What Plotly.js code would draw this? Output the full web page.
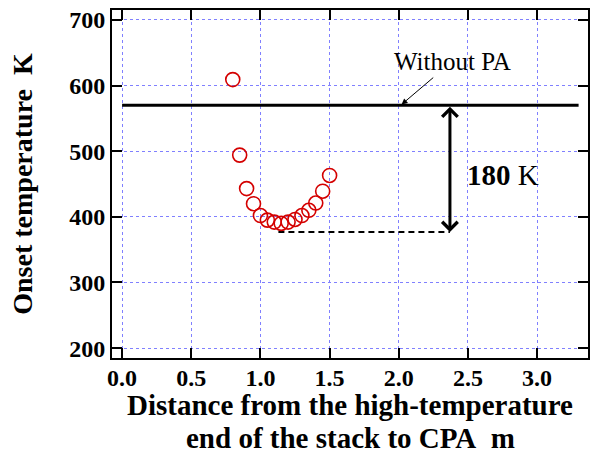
<!DOCTYPE html>
<html>
<head>
<meta charset="utf-8">
<script src="https://cdn.plot.ly/plotly-3.0.1.min.js"></script>
<style>html,body{margin:0;padding:0;background:#fff;}#chart{width:591px;height:454px;}</style>
</head>
<body>
<div id="chart"></div>
<script>
// Data
const distance = [0.80, 0.85, 0.90, 0.95, 1.00, 1.05, 1.10, 1.15, 1.20, 1.25, 1.30, 1.35, 1.40, 1.45, 1.50];
const onsetTemp = [609, 494, 443, 420, 402, 395, 392, 390, 392, 396, 402, 410, 421, 439, 463];
const withoutPA = 570;          // onset temperature without PA (K)
const withoutPAX = [0, 3.3];    // extent of the reference line
const minLevel = 377;           // dashed level line
const minLevelX = [1.13, 2.37];
const arrowX = 2.37;
const xTicks = [0, 0.5, 1.0, 1.5, 2.0, 2.5, 3.0];
const yTicks = [200, 300, 400, 500, 600, 700];
const xTitleLines = ['Distance from the high-temperature', 'end of the stack to CPA\u00a0\u00a0m'];

const serif = "'Liberation Serif', 'Times New Roman', serif";

const traces = [
  {
    x: withoutPAX, y: [withoutPA, withoutPA], mode: 'lines', type: 'scatter',
    line: {color: '#000', width: 3}, hoverinfo: 'skip', showlegend: false
  },
  {
    x: minLevelX, y: [minLevel, minLevel], mode: 'lines', type: 'scatter',
    line: {color: '#000', width: 2, dash: '6px,4px'}, hoverinfo: 'skip', showlegend: false
  },
  {
    x: distance, y: onsetTemp, mode: 'markers', type: 'scatter',
    marker: {symbol: 'circle-open', size: 14, color: '#d40000', line: {width: 1.6, color: '#d40000'}},
    showlegend: false
  }
];

const axisCommon = {
  showline: true, linecolor: '#000', linewidth: 2, mirror: 'ticks',
  ticks: 'inside', ticklen: 10, tickwidth: 2, tickcolor: '#000',
  showgrid: true, gridcolor: '#8080ff', gridwidth: 1, griddash: 'dot',
  zeroline: false,
  tickfont: {family: serif, size: 24, color: '#000', weight: 'bold'}
};

const titleFont = {family: serif, size: 29, color: '#000', weight: 'bold'};

const layout = {
  width: 591, height: 454,
  margin: {l: 112, r: 3, t: 10, b: 96},
  paper_bgcolor: '#fff', plot_bgcolor: '#fff',
  xaxis: Object.assign({}, axisCommon, {
    range: [-0.073, 3.368], tickvals: xTicks, tickformat: '.1f', ticklabelstandoff: -3
  }),
  yaxis: Object.assign({}, axisCommon, {
    range: [185, 715], tickvals: yTicks,
    title: {text: 'Onset temperature\u00a0\u00a0K',
            font: {family: serif, size: 28, color: '#000', weight: 'bold'}, standoff: 28}
  }),
  annotations: [
    {x: 0.5, y: 0, xref: 'paper', yref: 'paper', xanchor: 'center', yanchor: 'middle', yshift: -47,
     showarrow: false, text: xTitleLines[0], font: titleFont},
    {x: 0.5, y: 0, xref: 'paper', yref: 'paper', xanchor: 'center', yanchor: 'middle', yshift: -80,
     showarrow: false, text: xTitleLines[1], font: titleFont},
    {x: arrowX, y: minLevel, ax: arrowX, ay: withoutPA, xref: 'x', yref: 'y', axref: 'x', ayref: 'y',
     showarrow: true, arrowhead: 4, arrowside: 'end+start', arrowwidth: 3, arrowsize: 1, arrowcolor: '#000', text: ''},
    {x: 2.02, y: withoutPA + 1, ax: 2.26, ay: 614, xref: 'x', yref: 'y', axref: 'x', ayref: 'y',
     showarrow: true, arrowhead: 2, arrowwidth: 1, arrowsize: 1.2, arrowcolor: '#000', text: ''},
    {x: 2.39, y: 636, xref: 'x', yref: 'y', showarrow: false, text: 'Without PA',
     font: {family: serif, size: 25, color: '#000'}},
    {x: 2.75, y: 464, xref: 'x', yref: 'y', showarrow: false, text: '<b>180</b> K',
     font: {family: serif, size: 29, color: '#000'}}
  ]
};

Plotly.newPlot('chart', traces, layout, {displayModeBar: false, staticPlot: true});
</script>
</body>
</html>
